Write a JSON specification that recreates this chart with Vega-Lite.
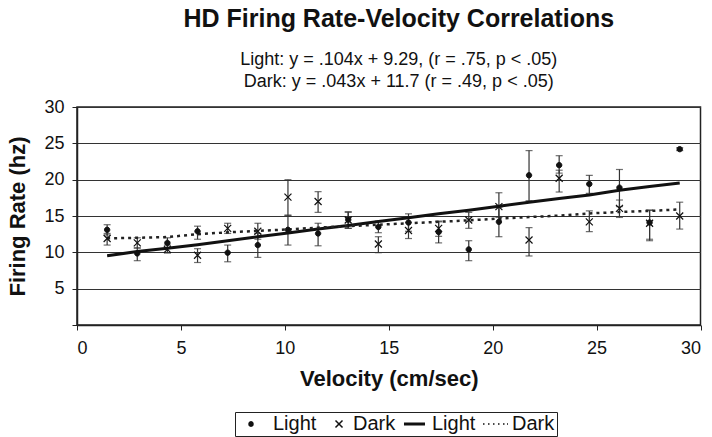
{
  "$schema": "https://vega.github.io/schema/vega-lite/v6.json",
  "autosize": "none",
  "width": 623.5,
  "height": 218,
  "padding": {"left": 77, "top": 107, "right": 11.5, "bottom": 112},
  "background": "white",
  "config": {
    "font": "Liberation Sans",
    "view": {"stroke": "#222", "strokeWidth": 1.5},
    "axis": {"labelFont": "Liberation Sans", "titleFont": "Liberation Sans", "labelColor": "#111", "titleColor": "#111", "domainColor": "#222", "tickColor": "#222", "domainWidth": 1.5, "tickSize": 5, "labelFontSize": 18, "titleFontSize": 22, "titleFontWeight": "bold"},
    "axisX": {"grid": false, "labelPadding": 9, "titlePadding": 11},
    "axisY": {"grid": true, "gridColor": "#333", "gridOpacity": 1, "gridWidth": 1, "labelPadding": 8, "titlePadding": 14}
  },
  "title": {
    "text": "HD Firing Rate-Velocity Correlations",
    "subtitle": ["Light: y = .104x + 9.29, (r = .75, p < .05)", "Dark: y = .043x + 11.7 (r = .49, p < .05)"],
    "anchor": "middle",
    "dx": 10,
    "fontSize": 25,
    "fontWeight": "bold",
    "color": "#111",
    "subtitleFontSize": 18,
    "subtitleColor": "#111",
    "subtitlePadding": 19,
    "subtitleLineHeight": 22,
    "offset": 7
  },
  "datasets": {
    "pts": [
      {"v": 1.45, "series": "Light pts", "rate": 13.1, "lo": 12.4, "hi": 13.8},
      {"v": 2.9, "series": "Light pts", "rate": 9.85, "lo": 8.85, "hi": 10.6},
      {"v": 4.35, "series": "Light pts", "rate": 11.3, "lo": 10.6, "hi": 12.0},
      {"v": 5.8, "series": "Light pts", "rate": 12.9, "lo": 11.8, "hi": 13.6},
      {"v": 7.25, "series": "Light pts", "rate": 9.95, "lo": 8.7, "hi": 11.0},
      {"v": 8.7, "series": "Light pts", "rate": 11.0, "lo": 9.3, "hi": 12.6},
      {"v": 10.15, "series": "Light pts", "rate": 13.1, "lo": 11.0, "hi": 15.1},
      {"v": 11.6, "series": "Light pts", "rate": 12.6, "lo": 10.9, "hi": 14.0},
      {"v": 13.05, "series": "Light pts", "rate": 14.5, "lo": 13.3, "hi": 15.6},
      {"v": 14.5, "series": "Light pts", "rate": 13.5, "lo": 12.7, "hi": 14.3},
      {"v": 15.95, "series": "Light pts", "rate": 14.1, "lo": 12.9, "hi": 15.3},
      {"v": 17.4, "series": "Light pts", "rate": 12.8, "lo": 11.3, "hi": 14.3},
      {"v": 18.85, "series": "Light pts", "rate": 10.4, "lo": 8.85, "hi": 11.6},
      {"v": 20.3, "series": "Light pts", "rate": 14.2, "lo": 12.15, "hi": 16.2},
      {"v": 21.75, "series": "Light pts", "rate": 20.6, "lo": 17.1, "hi": 24.0},
      {"v": 23.2, "series": "Light pts", "rate": 22.0, "lo": 20.9, "hi": 23.3},
      {"v": 24.65, "series": "Light pts", "rate": 19.4, "lo": 18.1, "hi": 20.6},
      {"v": 26.1, "series": "Light pts", "rate": 18.9, "lo": 16.3, "hi": 21.4},
      {"v": 27.55, "series": "Light pts", "rate": 14.1, "lo": 11.6, "hi": 15.8},
      {"v": 29.0, "series": "Light pts", "rate": 24.2, "lo": 24.0, "hi": 24.4},
      {"v": 1.45, "series": "Dark pts", "rate": 11.9, "lo": 11.0, "hi": 12.6},
      {"v": 2.9, "series": "Dark pts", "rate": 11.3, "lo": 10.6, "hi": 12.0},
      {"v": 4.35, "series": "Dark pts", "rate": 10.4, "lo": 9.9, "hi": 11.0},
      {"v": 5.8, "series": "Dark pts", "rate": 9.6, "lo": 8.6, "hi": 10.5},
      {"v": 7.25, "series": "Dark pts", "rate": 13.3, "lo": 12.6, "hi": 14.0},
      {"v": 8.7, "series": "Dark pts", "rate": 12.9, "lo": 11.8, "hi": 14.0},
      {"v": 10.15, "series": "Dark pts", "rate": 17.6, "lo": 15.1, "hi": 20.0},
      {"v": 11.6, "series": "Dark pts", "rate": 17.0, "lo": 15.5, "hi": 18.35},
      {"v": 13.05, "series": "Dark pts", "rate": 14.45, "lo": 13.3, "hi": 15.5},
      {"v": 14.5, "series": "Dark pts", "rate": 11.15, "lo": 9.95, "hi": 12.15},
      {"v": 15.95, "series": "Dark pts", "rate": 13.0, "lo": 11.9, "hi": 14.1},
      {"v": 17.4, "series": "Dark pts", "rate": 13.3, "lo": 12.2, "hi": 14.2},
      {"v": 18.85, "series": "Dark pts", "rate": 14.45, "lo": 13.3, "hi": 15.5},
      {"v": 20.3, "series": "Dark pts", "rate": 16.3, "lo": 14.8, "hi": 18.2},
      {"v": 21.75, "series": "Dark pts", "rate": 11.7, "lo": 9.5, "hi": 13.4},
      {"v": 23.2, "series": "Dark pts", "rate": 20.2, "lo": 18.3, "hi": 21.3},
      {"v": 24.65, "series": "Dark pts", "rate": 14.2, "lo": 12.85, "hi": 15.7},
      {"v": 26.1, "series": "Dark pts", "rate": 16.05, "lo": 14.8, "hi": 17.2},
      {"v": 27.55, "series": "Dark pts", "rate": 14.0, "lo": 11.8, "hi": 15.8},
      {"v": 29.0, "series": "Dark pts", "rate": 15.0, "lo": 13.2, "hi": 16.9}
    ],
    "lines": [
      {"v": 1.45, "series": "Light", "rate": 9.52},
      {"v": 2.9, "series": "Light", "rate": 10.1},
      {"v": 4.35, "series": "Light", "rate": 10.55},
      {"v": 5.8, "series": "Light", "rate": 11.05},
      {"v": 7.25, "series": "Light", "rate": 11.6},
      {"v": 8.7, "series": "Light", "rate": 12.15},
      {"v": 10.15, "series": "Light", "rate": 12.65},
      {"v": 11.6, "series": "Light", "rate": 13.2},
      {"v": 13.05, "series": "Light", "rate": 13.7},
      {"v": 14.5, "series": "Light", "rate": 14.25},
      {"v": 15.95, "series": "Light", "rate": 14.75},
      {"v": 17.4, "series": "Light", "rate": 15.3},
      {"v": 18.85, "series": "Light", "rate": 15.8},
      {"v": 20.3, "series": "Light", "rate": 16.35},
      {"v": 21.75, "series": "Light", "rate": 16.9},
      {"v": 23.2, "series": "Light", "rate": 17.4},
      {"v": 24.65, "series": "Light", "rate": 17.9},
      {"v": 26.1, "series": "Light", "rate": 18.55},
      {"v": 27.55, "series": "Light", "rate": 19.05},
      {"v": 29.0, "series": "Light", "rate": 19.55},
      {"v": 1.45, "series": "Dark", "rate": 11.93},
      {"v": 2.9, "series": "Dark", "rate": 12.0},
      {"v": 4.35, "series": "Dark", "rate": 12.1},
      {"v": 5.8, "series": "Dark", "rate": 12.5},
      {"v": 7.25, "series": "Dark", "rate": 12.75},
      {"v": 8.7, "series": "Dark", "rate": 12.95},
      {"v": 10.15, "series": "Dark", "rate": 13.15},
      {"v": 11.6, "series": "Dark", "rate": 13.4},
      {"v": 13.05, "series": "Dark", "rate": 13.6},
      {"v": 14.5, "series": "Dark", "rate": 13.8},
      {"v": 15.95, "series": "Dark", "rate": 14.0},
      {"v": 17.4, "series": "Dark", "rate": 14.2},
      {"v": 18.85, "series": "Dark", "rate": 14.4},
      {"v": 20.3, "series": "Dark", "rate": 14.65},
      {"v": 21.75, "series": "Dark", "rate": 14.85},
      {"v": 23.2, "series": "Dark", "rate": 15.05},
      {"v": 24.65, "series": "Dark", "rate": 15.35},
      {"v": 26.1, "series": "Dark", "rate": 15.55},
      {"v": 27.55, "series": "Dark", "rate": 15.7},
      {"v": 29.0, "series": "Dark", "rate": 15.9}
    ]
  },
  "encoding": {
    "x": {"field": "v", "type": "quantitative", "scale": {"domain": [0, 30], "nice": false}, "title": "Velocity (cm/sec)",
      "axis": {"values": [0, 5, 10, 15, 20, 25, 30]}}
  },
  "layer": [
    {
      "data": {"name": "pts"},
      "mark": {"type": "rule", "color": "#333", "strokeWidth": 1.2},
      "encoding": {
        "y": {"field": "lo", "type": "quantitative", "scale": {"domain": [0, 30], "nice": false}, "title": "Firing Rate (hz)",
          "axis": {"values": [0, 5, 10, 15, 20, 25, 30], "labelExpr": "datum.value == 0 ? '' : datum.label"}},
        "y2": {"field": "hi"}
      }
    },
    {
      "data": {"name": "pts"},
      "mark": {"type": "tick", "orient": "horizontal", "size": 7, "thickness": 1.2, "color": "#333"},
      "encoding": {
        "y": {"field": "lo", "type": "quantitative", "title": "Firing Rate (hz)",
          "axis": {"values": [0, 5, 10, 15, 20, 25, 30], "labelExpr": "datum.value == 0 ? '' : datum.label"}}
      }
    },
    {
      "data": {"name": "pts"},
      "mark": {"type": "tick", "orient": "horizontal", "size": 7, "thickness": 1.2, "color": "#333"},
      "encoding": {
        "y": {"field": "hi", "type": "quantitative", "title": "Firing Rate (hz)",
          "axis": {"values": [0, 5, 10, 15, 20, 25, 30], "labelExpr": "datum.value == 0 ? '' : datum.label"}}
      }
    },
    {
      "data": {"name": "lines"},
      "transform": [{"filter": "datum.series == 'Light'"}],
      "mark": {"type": "line", "color": "#111", "strokeWidth": 3},
      "encoding": {
        "y": {"field": "rate", "type": "quantitative", "title": "Firing Rate (hz)",
          "axis": {"values": [0, 5, 10, 15, 20, 25, 30], "labelExpr": "datum.value == 0 ? '' : datum.label"}}
      }
    },
    {
      "data": {"name": "lines"},
      "transform": [{"filter": "datum.series == 'Dark'"}],
      "mark": {"type": "line", "color": "#222", "strokeWidth": 2.5, "strokeDash": [3, 4]},
      "encoding": {
        "y": {"field": "rate", "type": "quantitative", "title": "Firing Rate (hz)",
          "axis": {"values": [0, 5, 10, 15, 20, 25, 30], "labelExpr": "datum.value == 0 ? '' : datum.label"}}
      }
    },
    {
      "data": {"name": "pts"},
      "transform": [{"filter": "datum.series == 'Light pts'"}],
      "mark": {"type": "point", "shape": "M0.85,0A0.85,0.85,0,1,1,-0.85,0A0.85,0.85,0,1,1,0.85,0Z", "filled": true, "fill": "#111", "stroke": "#111", "strokeWidth": 1, "opacity": 1, "size": 40},
      "encoding": {
        "y": {"field": "rate", "type": "quantitative", "title": "Firing Rate (hz)",
          "axis": {"values": [0, 5, 10, 15, 20, 25, 30], "labelExpr": "datum.value == 0 ? '' : datum.label"}}
      }
    },
    {
      "data": {"name": "pts"},
      "transform": [{"filter": "datum.series == 'Dark pts'"}],
      "mark": {"type": "point", "shape": "M-1,-1L1,1M-1,1L1,-1", "filled": false, "stroke": "#111", "strokeWidth": 1.2, "opacity": 1, "size": 49},
      "encoding": {
        "y": {"field": "rate", "type": "quantitative", "title": "Firing Rate (hz)",
          "axis": {"values": [0, 5, 10, 15, 20, 25, 30], "labelExpr": "datum.value == 0 ? '' : datum.label"}}
      }
    },
    {
      "data": {"name": "pts"},
      "transform": [{"filter": "datum.v < 0"}],
      "mark": {"type": "point", "filled": false, "color": "#111", "stroke": "#111", "strokeWidth": 1.5, "opacity": 1, "size": 36},
      "encoding": {
        "y": {"field": "rate", "type": "quantitative", "title": "Firing Rate (hz)",
          "axis": {"values": [0, 5, 10, 15, 20, 25, 30], "labelExpr": "datum.value == 0 ? '' : datum.label"}},
        "shape": {"field": "series", "type": "nominal",
          "scale": {"domain": ["Light pts", "Dark pts", "Light fit", "Dark fit"],
            "range": ["M2,0A0.67,0.67,0,1,1,0.67,0A0.67,0.67,0,1,1,2,0ZM1.6,0A0.27,0.27,0,1,1,1.07,0A0.27,0.27,0,1,1,1.6,0Z", "M2.83,-1.17L5.17,1.17M2.83,1.17L5.17,-1.17", "M-0.67,-0.25L6.33,-0.25M-0.67,0.25L6.33,0.25", "M-1,0L-0.5,0M0.67,0L1.17,0M2.33,0L2.83,0M4,0L4.5,0M5.67,0L6.17,0M7,0L7.33,0"]},
          "legend": {"title": null, "orient": "none", "legendX": 158, "legendY": 305, "direction": "horizontal",
            "labelFontSize": 20, "labelColor": "#111", "labelFont": "Liberation Sans",
            "labelExpr": "datum.value == 'Light pts' || datum.value == 'Light fit' ? 'Light' : 'Dark'",
            "strokeColor": "#222", "padding": 2, "labelOffset": 16, "columnPadding": 0,
            "symbolSize": 36, "symbolStrokeWidth": 1.5, "symbolStrokeColor": "#111", "symbolOpacity": 1}}
      }
    }
  ]
}
